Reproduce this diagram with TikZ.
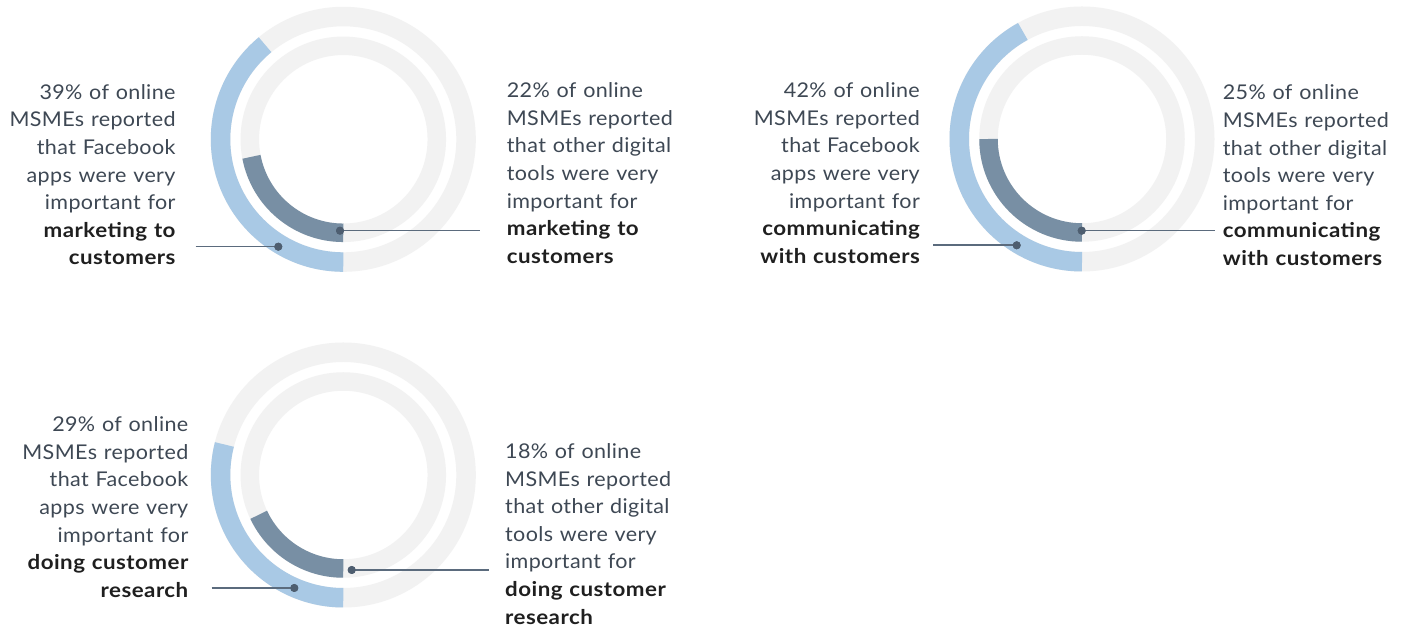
\documentclass[tikz,border=0pt]{standalone}
\usepackage{fontspec}
\setmainfont{Lato}[FakeStretch=1.06,LetterSpace=1.8,BoldFeatures={FakeStretch=1.1,LetterSpace=2.3}]
\definecolor{ringgray}{HTML}{F2F2F2}
\definecolor{fbblue}{HTML}{A9C9E5}
\definecolor{othblue}{HTML}{788FA4}
\definecolor{txtgray}{HTML}{3E4854}
\definecolor{txtbold}{HTML}{1F1F1F}
\definecolor{leadcol}{HTML}{5B6B7D}
\definecolor{dotcol}{HTML}{4E5E70}
\newcommand{\txtfont}{\fontsize{20.3pt}{27.6pt}\selectfont}
\newcommand{\bl}[1]{{\color{txtbold}\bfseries #1}}
\begin{document}
\begin{tikzpicture}[x=1pt,y=1pt,
  outerbg/.style={draw=ringgray,line width=19.5pt},
  innerbg/.style={draw=ringgray,line width=18.5pt},
  fbarc/.style={draw=fbblue,line width=19.5pt},
  otharc/.style={draw=othblue,line width=18.5pt},
  leader/.style={draw=leadcol,line width=1.6pt},
  dotnode/.style={circle,fill=dotcol,inner sep=0pt,minimum size=8pt},
  lefttxt/.style={anchor=base east,align=right,text width=230pt,inner sep=0pt,font=\txtfont,text=txtgray},
  righttxt/.style={anchor=base west,align=left,text width=230pt,inner sep=0pt,font=\txtfont,text=txtgray}]
\useasboundingbox (0,0) rectangle (1409,631);
\fill[white] (0,0) rectangle (1409,631);

% ---------- chart 1 ----------
\coordinate (c1) at (343.3,491.7);
\draw[outerbg] (c1) circle[radius=122.75];
\draw[innerbg] (c1) circle[radius=93.5];
\draw[fbarc] ([shift={(270:122.75)}]c1) arc[start angle=270,end angle=129.6,radius=122.75];
\draw[otharc] ([shift={(270:93.5)}]c1) arc[start angle=270,end angle=190.8,radius=93.5];
\node[dotnode] (d1a) at (278.3,384.3) {};
\node[dotnode] (d1b) at (340,400.3) {};
\coordinate (e1a) at (195.7,384.3);
\coordinate (e1b) at (480,400.3);
\draw[leader] (e1a) -- (d1a.center);
\draw[leader] (d1b.center) -- (e1b);
\node[dotnode] at (d1a) {};
\node[dotnode] at (d1b) {};
\node[lefttxt] (t1a) at (175.7,531.7) {39\% of online\\MSMEs reported\\that Facebook\\apps were very\\important for\\\bl{marketing to}\\\bl{customers}};
\node[righttxt] (t1b) at (506.7,533.3) {22\% of online\\MSMEs reported\\that other digital\\tools were very\\important for\\\bl{marketing to}\\\bl{customers}};

% ---------- chart 2 ----------
\coordinate (c2) at (1082,492);
\draw[outerbg] (c2) circle[radius=122.75];
\draw[innerbg] (c2) circle[radius=93.5];
\draw[fbarc] ([shift={(270:122.75)}]c2) arc[start angle=270,end angle=118.8,radius=122.75];
\draw[otharc] ([shift={(270:93.5)}]c2) arc[start angle=270,end angle=180,radius=93.5];
\node[dotnode] (d2a) at (1016.7,385.7) {};
\node[dotnode] (d2b) at (1081.7,400.3) {};
\coordinate (e2a) at (933,385.7);
\coordinate (e2b) at (1215,400.3);
\draw[leader] (e2a) -- (d2a.center);
\draw[leader] (d2b.center) -- (e2b);
\node[dotnode] at (d2a) {};
\node[dotnode] at (d2b) {};
\node[lefttxt] (t2a) at (920,533.3) {42\% of online\\MSMEs reported\\that Facebook\\apps were very\\important for\\\bl{communicating}\\\bl{with customers}};
\node[righttxt] (t2b) at (1222.7,531) {25\% of online\\MSMEs reported\\that other digital\\tools were very\\important for\\\bl{communicating}\\\bl{with customers}};

% ---------- chart 3 ----------
\coordinate (c3) at (343.3,156);
\draw[outerbg] (c3) circle[radius=122.75];
\draw[innerbg] (c3) circle[radius=93.5];
\draw[fbarc] ([shift={(270:122.75)}]c3) arc[start angle=270,end angle=165.6,radius=122.75];
\draw[otharc] ([shift={(270:93.5)}]c3) arc[start angle=270,end angle=205.2,radius=93.5];
\node[dotnode] (d3a) at (294.3,43) {};
\node[dotnode] (d3b) at (351.7,61) {};
\coordinate (e3a) at (211.7,43);
\coordinate (e3b) at (489,61);
\draw[leader] (e3a) -- (d3a.center);
\draw[leader] (d3b.center) -- (e3b);
\node[dotnode] at (d3a) {};
\node[dotnode] at (d3b) {};
\node[lefttxt] (t3a) at (188.5,199.3) {29\% of online\\MSMEs reported\\that Facebook\\apps were very\\important for\\\bl{doing customer}\\\bl{research}};
\node[righttxt] (t3b) at (505,172.5) {18\% of online\\MSMEs reported\\that other digital\\tools were very\\important for\\\bl{doing customer}\\\bl{research}};
\end{tikzpicture}
\end{document}
